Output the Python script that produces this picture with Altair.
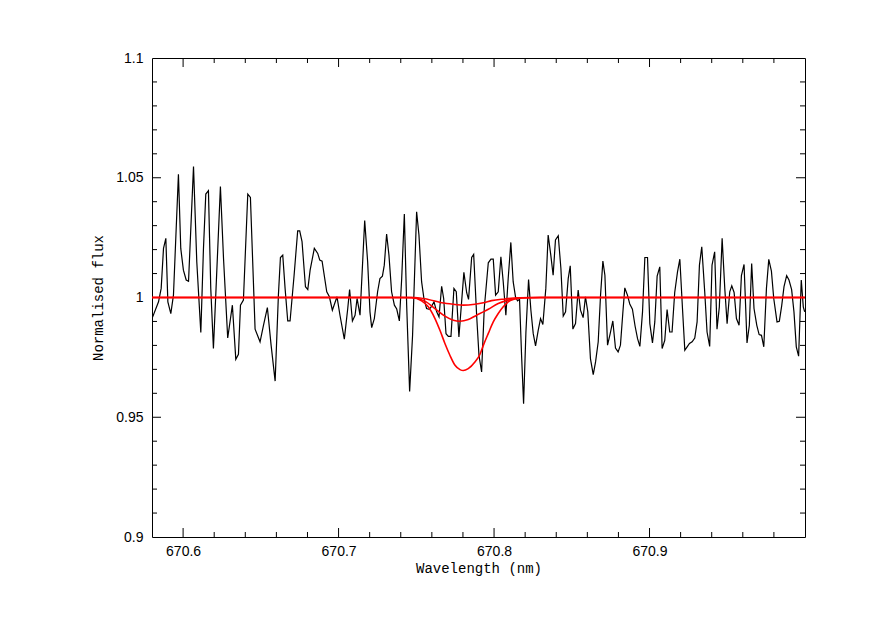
import altair as alt
import pandas as pd

# Observed spectrum (black)
wl = [670.5800, 670.5842, 670.5859, 670.5874, 670.5889, 670.5902, 670.5921, 670.5938, 670.5970, 670.5985,
      670.6002, 670.6020, 670.6035, 670.6067, 670.6088, 670.6114, 670.6131, 670.6146, 670.6163, 670.6178,
      670.6195, 670.6212, 670.6240, 670.6260, 670.6287, 670.6317, 670.6339, 670.6356, 670.6369, 670.6388,
      670.6416, 670.6433, 670.6463, 670.6495,
      670.6517, 670.6542, 670.6566, 670.6592, 670.6613, 670.6626, 670.6641, 670.6656, 670.6673, 670.6688,
      670.6714, 670.6737, 670.6750, 670.6765, 670.6787, 670.6802, 670.6817, 670.6844, 670.6866, 670.6879,
      670.6894, 670.6924, 670.6941, 670.6960, 670.6990, 670.7009, 670.7037, 670.7059, 670.7071, 670.7089,
      670.7106, 670.7119, 670.7138, 670.7168, 670.7187, 670.7202,
      670.7213, 670.7230, 670.7251, 670.7266, 670.7282, 670.7294, 670.7309, 670.7324, 670.7341, 670.7359,
      670.7374, 670.7391, 670.7406, 670.7423, 670.7438, 670.7457, 670.7476, 670.7502, 670.7517, 670.7534,
      670.7549, 670.7566, 670.7584, 670.7599, 670.7614, 670.7631, 670.7646, 670.7663, 670.7676, 670.7691,
      670.7706, 670.7723, 670.7742, 670.7757, 670.7774, 670.7806, 670.7824, 670.7836, 670.7856, 670.7869,
      670.7888, 670.7903, 670.7920,
      670.7937, 670.7963, 670.7980, 670.7995, 670.8010, 670.8027, 670.8044, 670.8059, 670.8076, 670.8091,
      670.8108, 670.8123, 670.8138, 670.8151, 670.8164, 670.8177, 670.8190, 670.8205, 670.8222, 670.8237,
      670.8252, 670.8267, 670.8284, 670.8299, 670.8314, 670.8333, 670.8348, 670.8365, 670.8380, 670.8395,
      670.8413, 670.8430, 670.8445, 670.8460, 670.8477, 670.8490, 670.8507, 670.8524, 670.8541, 670.8556,
      670.8573, 670.8588, 670.8603, 670.8620, 670.8638,
      670.8653, 670.8670, 670.8685, 670.8700, 670.8713, 670.8730, 670.8747, 670.8764, 670.8781, 670.8798,
      670.8813, 670.8828, 670.8841, 670.8858, 670.8873, 670.8890, 670.8907, 670.8923, 670.8938, 670.8955,
      670.8970, 670.8987, 670.9002, 670.9019, 670.9034, 670.9049, 670.9066, 670.9081, 670.9098, 670.9113,
      670.9130, 670.9145, 670.9162, 670.9180, 670.9195, 670.9212, 670.9227, 670.9242, 670.9257, 670.9274,
      670.9291, 670.9306, 670.9321, 670.9336,
      670.9355, 670.9370, 670.9387, 670.9402, 670.9419, 670.9434, 670.9449, 670.9467, 670.9484, 670.9499,
      670.9516, 670.9529, 670.9544, 670.9559, 670.9576, 670.9591, 670.9608, 670.9627, 670.9642, 670.9657,
      670.9672, 670.9690, 670.9705, 670.9720, 670.9735, 670.9752, 670.9767, 670.9784, 670.9799, 670.9820,
      670.9835, 670.9850, 670.9865, 670.9882, 670.9897, 670.9914, 670.9929, 670.9944, 670.9959, 670.9976,
      670.9989, 670.9998]
flux = [0.9912, 0.9982, 1.0038, 1.0205, 1.0247, 0.9982, 0.9933, 1.0010, 1.0515, 1.0205,
        1.0114, 1.0073, 1.0068, 1.0547, 1.0149, 0.9854, 1.0205, 1.0432, 1.0446, 1.0038,
        0.9787, 1.0038, 1.0463, 1.0163, 0.9831, 0.9968, 0.9742, 0.9763, 0.9968, 0.9989,
        1.0432, 1.0418, 0.9868, 0.9815,
        0.9884, 0.9958, 0.9801, 0.9651, 1.0010, 1.0167, 1.0177, 1.0038, 0.9902, 0.9902,
        1.0093, 1.0278, 1.0278, 1.0233, 1.0045, 1.0033, 1.0114, 1.0205, 1.0184, 1.0156,
        1.0152, 1.0024, 1.0003, 0.9947, 1.0003, 0.9926, 0.9826, 0.9954, 1.0033, 0.9902,
        0.9926, 0.9996, 0.9926, 1.0321, 1.0149, 0.9940,
        0.9874, 0.9912, 1.0024, 1.0079, 1.0089, 1.0135, 1.0265, 1.0177, 1.0024, 0.9968,
        0.9952, 0.9902, 1.0079, 1.0349, 0.9968, 0.9608, 0.9842, 1.0358, 1.0261, 1.0066,
        0.9996, 0.9954, 0.9951, 0.9964, 0.9982, 0.9940, 0.9919, 1.0047, 0.9996, 0.9849,
        0.9838, 0.9838, 1.0038, 1.0024, 0.9835, 1.0105, 1.0020, 0.9992, 1.0167, 1.0180,
        0.9926, 0.9759, 0.9689,
        0.9954, 1.0145, 1.0160, 1.0160, 1.0010, 1.0024, 1.0170, 1.0066, 0.9926, 1.0079,
        1.0230, 1.0066, 1.0003, 0.9986, 0.9993, 0.9759, 0.9556, 0.9856, 1.0075, 0.9947,
        0.9849, 0.9798, 0.9863, 0.9912, 0.9887, 1.0038, 1.0261, 1.0177, 1.0093, 1.0240,
        1.0258, 1.0121, 0.9922, 0.9940, 1.0079, 1.0132, 0.9868, 0.9891, 1.0031, 0.9947,
        0.9916, 1.0003, 0.9940, 0.9745, 0.9678,
        0.9731, 0.9815, 1.0010, 1.0152, 1.0093, 0.9801, 0.9849, 0.9902, 0.9789, 0.9773,
        0.9801, 0.9933, 1.0040, 1.0010, 0.9973, 0.9951, 0.9881, 0.9828, 0.9796, 0.9940,
        1.0167, 1.0167, 0.9891, 0.9810, 0.9898, 1.0089, 1.0128, 0.9787, 0.9821, 0.9950,
        0.9856, 0.9856, 1.0021, 1.0107, 1.0160, 0.9954, 0.9780, 0.9794, 0.9808, 0.9815,
        0.9831, 0.9898, 1.0135, 1.0212,
        1.0024, 0.9856, 0.9796, 1.0135, 1.0191, 0.9868, 0.9961, 1.0247, 1.0038, 0.9891,
        1.0024, 1.0049, 1.0021, 0.9912, 0.9884, 1.0091, 1.0138, 0.9810, 0.9884, 1.0142,
        0.9954, 0.9884, 0.9845, 0.9842, 0.9794, 1.0038, 1.0159, 1.0110, 0.9996, 0.9898,
        0.9901, 0.9965, 1.0045, 1.0091, 1.0073, 1.0033, 0.9940, 0.9794, 0.9755, 1.0073,
        0.9961, 0.9940]

# Synthetic profiles (red)
deep_wl = [670.58, 670.740, 670.7470, 670.7534, 670.7577, 670.7620, 670.7652, 670.7684, 670.7716, 670.7749,
           670.7781, 670.7802, 670.7834, 670.7877, 670.7909, 670.7931, 670.7963, 670.7995, 670.8027, 670.8059,
           670.8091, 670.8123, 670.8155, 670.8209, 670.830, 671.0]
deep_flux = [1.0, 1.0, 0.9999, 0.9986, 0.9961, 0.9912, 0.9863, 0.9808, 0.9759, 0.9717,
             0.9699, 0.9695, 0.9703, 0.9731, 0.9762, 0.9800, 0.9850, 0.9898, 0.9933, 0.9961,
             0.9982, 0.9992, 0.9996, 0.9999, 1.0, 1.0]
mid_wl = [670.58, 670.740, 670.7470, 670.7556, 670.7620, 670.7684, 670.7738, 670.7781, 670.7834, 670.7888,
          670.7931, 670.7963, 670.8027, 670.8091, 670.8177, 670.830, 671.0]
mid_flux = [1.0, 1.0, 1.0, 0.9985, 0.9954, 0.9922, 0.9905, 0.9901, 0.9908, 0.9926,
            0.9940, 0.9951, 0.9975, 0.9989, 0.9999, 1.0, 1.0]
small_wl = [670.58, 670.740, 670.7491, 670.7577, 670.7663, 670.7749, 670.7802, 670.7877, 670.7931, 670.7984,
            670.8070, 670.8155, 670.830, 671.0]
small_flux = [1.0, 1.0, 1.0, 0.9992, 0.9978, 0.9971, 0.9968, 0.9972, 0.9978, 0.9987,
              0.9994, 0.9999, 1.0, 1.0]

# Axis ticks (the tick at 1 is hidden under the red continuum)
x_labels = [670.6, 670.7, 670.8, 670.9]
x_minor = [670.62, 670.64, 670.66, 670.68, 670.72, 670.74, 670.76, 670.78,
           670.82, 670.84, 670.86, 670.88, 670.92, 670.94, 670.96, 670.98]
y_labels = [0.9, 0.95, 1.0, 1.05, 1.1]
y_major = [0.95, 1.05]
y_minor = [0.91, 0.92, 0.93, 0.94, 0.96, 0.97, 0.98, 0.99,
           1.01, 1.02, 1.03, 1.04, 1.06, 1.07, 1.08, 1.09]

W, H = 653, 479
MAJ, MIN = 9, 5

xs = alt.Scale(domain=[670.58, 671.0], nice=False, zero=False)
ys = alt.Scale(domain=[0.9, 1.1], nice=False, zero=False)

xa = alt.Axis(
    values=x_labels, format=".1f", labelFont="Liberation Sans", labelFontSize=14,
    labelColor="black", labelPadding=7, labelFlush=False, tickSize=0, ticks=False, domain=False,
    grid=False, title="Wavelength (nm)", titleFont="Liberation Mono", titleFontSize=14,
    titleFontWeight="normal", titleColor="black", titlePadding=3, zindex=0)
ya = alt.Axis(
    values=y_labels, format="~g", labelFont="Liberation Sans", labelFontSize=14,
    labelColor="black", labelPadding=9, labelFlush=False, tickSize=0, ticks=False, domain=False,
    grid=False, title="Normalised flux", titleFont="Liberation Mono", titleFontSize=14,
    titleFontWeight="normal", titleColor="black", titlePadding=10, zindex=0)

spec = pd.DataFrame({"wl": wl, "flux": flux})
models = pd.concat([
    pd.DataFrame({"wl": deep_wl, "flux": deep_flux, "m": "deep"}),
    pd.DataFrame({"wl": mid_wl, "flux": mid_flux, "m": "mid"}),
    pd.DataFrame({"wl": small_wl, "flux": small_flux, "m": "small"}),
])

black = alt.Chart(spec).mark_line(color="black", strokeWidth=1.2, clip=True).encode(
    x=alt.X("wl:Q", scale=xs, axis=xa, title="Wavelength (nm)"),
    y=alt.Y("flux:Q", scale=ys, axis=ya, title="Normalised flux"))

XP = alt.X("wl:Q", scale=xs, title="Wavelength (nm)")
YP = alt.Y("flux:Q", scale=ys, title="Normalised flux")

red = alt.Chart(models).mark_line(color="#ff0000", strokeWidth=1.6, clip=True,
                                  interpolate="monotone").encode(x=XP, y=YP, detail="m:N")


def xticks(vals, length):
    df = pd.DataFrame({"wl": vals})
    base = alt.Chart(df).mark_rule(color="black", strokeWidth=1)
    bottom = base.encode(x=XP, y=alt.value(H), y2=alt.value(H - length))
    top = base.encode(x=XP, y=alt.value(0), y2=alt.value(length))
    return [bottom, top]


def yticks(vals, length):
    df = pd.DataFrame({"flux": vals})
    base = alt.Chart(df).mark_rule(color="black", strokeWidth=1)
    left = base.encode(y=YP, x=alt.value(0), x2=alt.value(length))
    right = base.encode(y=YP, x=alt.value(W), x2=alt.value(W - length))
    return [left, right]


layers = ([black] + xticks(x_labels, MAJ) + xticks(x_minor, MIN)
          + yticks(y_major, MAJ) + yticks(y_minor, MIN) + [red])

chart = alt.layer(*layers).properties(
    width=W, height=H,
    background="white",
    autosize=alt.AutoSizeParams(type="none"),
    padding={"left": 144, "top": 50, "right": 60, "bottom": 70},
).configure_view(stroke="black", strokeWidth=1)

chart.save("out.html", embed_options={"renderer": "svg", "actions": False})
